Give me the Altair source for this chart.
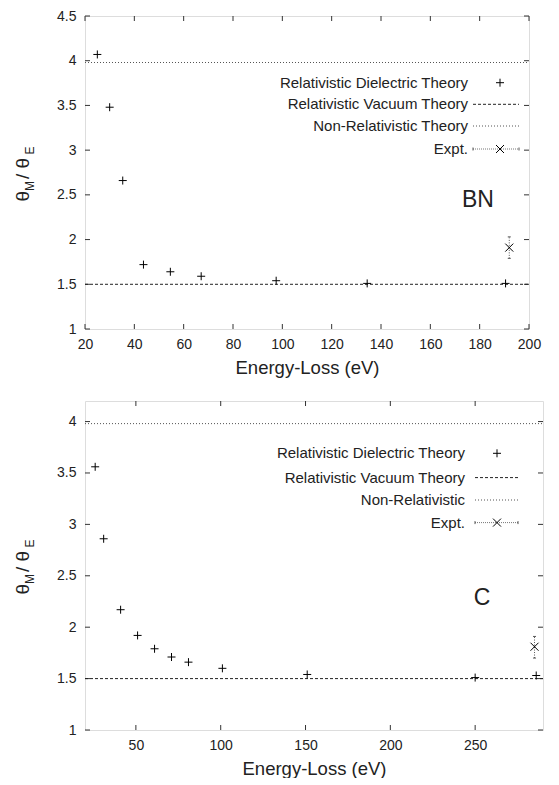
import altair as alt
import pandas as pd

# ---------------- data ----------------
bn_energy = [25.0, 30.0, 35.3, 43.7, 54.6, 67.1, 97.5, 134.4, 190.5]
bn_ratio = [4.07, 3.48, 2.66, 1.72, 1.64, 1.59, 1.54, 1.51, 1.51]
bn_expt_energy = [192.0]
bn_expt_ratio = [1.91]
bn_expt_lo = [1.79]
bn_expt_hi = [2.03]

c_energy = [26.0, 31.0, 41.0, 51.0, 61.0, 71.0, 81.0, 101.0, 151.0, 250.0, 286.0]
c_ratio = [3.56, 2.86, 2.17, 1.92, 1.79, 1.71, 1.66, 1.60, 1.54, 1.51, 1.53]
c_expt_energy = [285.0]
c_expt_ratio = [1.81]
c_expt_lo = [1.70]
c_expt_hi = [1.91]

vacuum_level = [1.5]
nonrel_level = [3.98]

bn_xticks = [20, 40, 60, 80, 100, 120, 140, 160, 180, 200]
bn_yticks = [1, 1.5, 2, 2.5, 3, 3.5, 4, 4.5]
c_xticks = [50, 100, 150, 200, 250]
c_yticks = [1, 1.5, 2, 2.5, 3, 3.5, 4]

bn_legend = ["Relativistic Dielectric Theory", "Relativistic Vacuum Theory",
             "Non-Relativistic Theory", "Expt."]
c_legend = ["Relativistic Dielectric Theory", "Relativistic Vacuum Theory",
            "Non-Relativistic", "Expt."]

FONT = "Liberation Sans"
INK = "#222222"
FRAME = "#333333"
PLUS = "M-1,0L1,0M0,-1L0,1"
CROSS = "M-1,-1L1,1M-1,1L1,-1"
HBAR = "M-1,0L1,0"
VBAR = "M0,-1L0,1"

ONE = pd.DataFrame({"k": [0]})


def panel(energy, ratio, ex, ey, elo, ehi, xdom, xticks, ydom, yticks,
          w, h, legend, rows, text_x, sym_x, line_x1, line_x2,
          label, label_x, label_y, title_x):
    xs = alt.Scale(domain=xdom, nice=False, zero=False)
    ys = alt.Scale(domain=ydom, nice=False, zero=False)
    xa = alt.Axis(values=xticks, ticks=False, domain=False, grid=False, labelFlush=False,
                  labelFontSize=14, labelPadding=8, labelColor=INK, labelFont=FONT,
                  title="Energy-Loss (eV)", titleFontSize=18.5, titlePadding=7,
                  titleColor=INK, titleFont=FONT, titleFontWeight="normal")
    ya = alt.Axis(values=yticks, ticks=False, domain=False, grid=False, format="~g",
                  labelFlush=False,
                  labelFontSize=14, labelPadding=9, labelColor=INK, labelFont=FONT,
                  title=None)

    def X(f="x"):
        return alt.X(f + ":Q", scale=xs, axis=xa)

    def Y(f="y"):
        return alt.Y(f + ":Q", scale=ys, axis=ya)

    pts = pd.DataFrame({"x": energy, "y": ratio})
    ex_df = pd.DataFrame({"x": ex, "y": ey, "lo": elo, "hi": ehi})
    xt = pd.DataFrame({"x": xticks})
    yt = pd.DataFrame({"y": yticks})

    layers = []
    # inward ticks on all four sides
    layers.append(alt.Chart(xt).mark_rule(color=FRAME, strokeWidth=1).encode(
        x=X(), y=alt.value(h), y2=alt.value(h - 5)))
    layers.append(alt.Chart(xt).mark_rule(color=FRAME, strokeWidth=1).encode(
        x=X(), y=alt.value(0), y2=alt.value(5)))
    layers.append(alt.Chart(yt).mark_rule(color=FRAME, strokeWidth=1).encode(
        y=Y(), x=alt.value(0), x2=alt.value(5)))
    layers.append(alt.Chart(yt).mark_rule(color=FRAME, strokeWidth=1).encode(
        y=Y(), x=alt.value(w), x2=alt.value(w - 5)))
    # reference levels
    layers.append(alt.Chart(pd.DataFrame({"y": vacuum_level})).mark_rule(
        color=INK, strokeWidth=1, strokeDash=[3, 2]).encode(
        y=Y(), x=alt.value(0), x2=alt.value(w)))
    layers.append(alt.Chart(pd.DataFrame({"y": nonrel_level})).mark_rule(
        color="#555555", strokeWidth=1, strokeDash=[1, 2]).encode(
        y=Y(), x=alt.value(0), x2=alt.value(w)))
    # dielectric theory points
    layers.append(alt.Chart(pts).mark_point(shape=PLUS, size=64, filled=False,
                                            color="black", strokeWidth=1, opacity=1).encode(
        x=X(), y=Y()))
    # experiment with error bar
    layers.append(alt.Chart(ex_df).mark_rule(color="#555555", strokeWidth=1,
                                             strokeDash=[1, 1.5]).encode(
        x=X(), y=Y("lo"), y2="hi:Q"))
    layers.append(alt.Chart(ex_df).mark_point(shape=HBAR, size=9, filled=False,
                                              color="#555555", strokeWidth=1, opacity=1).encode(
        x=X(), y=Y("lo")))
    layers.append(alt.Chart(ex_df).mark_point(shape=HBAR, size=9, filled=False,
                                              color="#555555", strokeWidth=1, opacity=1).encode(
        x=X(), y=Y("hi")))
    layers.append(alt.Chart(ex_df).mark_point(shape=CROSS, size=64, filled=False,
                                              color="black", strokeWidth=1, opacity=1).encode(
        x=X(), y=Y()))

    # legend (key on the right of the text, gnuplot style)
    for txt, r in zip(legend, rows):
        layers.append(alt.Chart(ONE).mark_text(align="right", baseline="middle",
                                               fontSize=15, font=FONT, color=INK).encode(
            x=alt.value(text_x), y=alt.value(r), text=alt.value(txt)))
    layers.append(alt.Chart(ONE).mark_point(shape=PLUS, size=64, filled=False,
                                            color="black", strokeWidth=1, opacity=1).encode(
        x=alt.value(sym_x), y=alt.value(rows[0])))
    layers.append(alt.Chart(ONE).mark_rule(color=INK, strokeWidth=1, strokeDash=[3, 2]).encode(
        x=alt.value(line_x1), x2=alt.value(line_x2), y=alt.value(rows[1])))
    layers.append(alt.Chart(ONE).mark_rule(color="#555555", strokeWidth=1, strokeDash=[1, 2]).encode(
        x=alt.value(line_x1), x2=alt.value(line_x2), y=alt.value(rows[2])))
    layers.append(alt.Chart(ONE).mark_rule(color="#777777", strokeWidth=1, strokeDash=[1, 1]).encode(
        x=alt.value(line_x1), x2=alt.value(line_x2), y=alt.value(rows[3])))
    for xx in (line_x1, line_x2):
        layers.append(alt.Chart(ONE).mark_point(shape=VBAR, size=9, filled=False,
                                                color="#555555", strokeWidth=1, opacity=1).encode(
            x=alt.value(xx), y=alt.value(rows[3])))
    layers.append(alt.Chart(ONE).mark_point(shape=CROSS, size=64, filled=False,
                                            color="black", strokeWidth=1, opacity=1).encode(
        x=alt.value(sym_x), y=alt.value(rows[3])))

    # material label
    layers.append(alt.Chart(ONE).mark_text(align="center", baseline="middle",
                                           fontSize=23, font=FONT, color=INK).encode(
        x=alt.value(label_x), y=alt.value(label_y), text=alt.value(label)))

    # y title: theta_M / theta_E with subscripts
    c = h / 2
    y1 = c + 29
    y2 = y1 - 10.5
    y3 = y2 - 12
    y4 = y3 - 24.5
    for txt, fs, dx, yy in (("θ", 19, 0, y1), ("M", 12, 5, y2),
                            (" / θ", 19, 0, y3), ("E", 12, 5, y4)):
        layers.append(alt.Chart(ONE).mark_text(align="left", baseline="alphabetic",
                                               angle=270, fontSize=fs, font=FONT,
                                               color=INK).encode(
            x=alt.value(title_x + dx), y=alt.value(yy), text=alt.value(txt)))

    return alt.layer(*layers).properties(width=w, height=h)


top = panel(bn_energy, bn_ratio, bn_expt_energy, bn_expt_ratio, bn_expt_lo, bn_expt_hi,
            [20, 200], bn_xticks, [1, 4.5], bn_yticks,
            444, 313, bn_legend, [66.7, 88.3, 110.0, 133.0],
            383, 415, 388, 434, "BN", 393, 184, -56)

bottom = panel(c_energy, c_ratio, c_expt_energy, c_expt_ratio, c_expt_lo, c_expt_hi,
               [20, 290], c_xticks, [1, 4.2], c_yticks,
               458, 329, c_legend, [52.3, 76.6, 99.0, 121.6],
               380, 412, 390, 433, "C", 397, 197, -56)

chart = alt.vconcat(top, bottom, spacing=23).configure_view(
    stroke=FRAME, strokeWidth=1
).configure(font=FONT).properties(padding={"left": 5, "top": 0, "right": 0, "bottom": 0})

chart.save("out.html", embed_options={"renderer": "svg", "actions": False})
